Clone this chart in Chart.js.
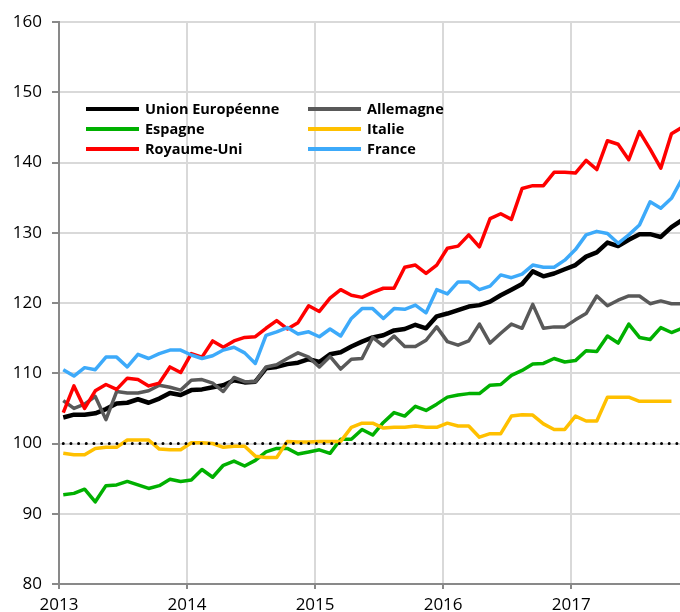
<!DOCTYPE html>
<html lang="fr">
<head>
<meta charset="UTF-8">
<title>Indices 2013-2017</title>
<script src="https://cdn.jsdelivr.net/npm/chart.js"></script>
<style>
  html, body { margin: 0; padding: 0; background: #fff; }
  #wrap { width: 680px; height: 612px; }
</style>
</head>
<body>
<div id="wrap"><canvas id="chart" width="680" height="612"></canvas></div>
<script>
// monthly values, Jan 2013 -> Nov 2017
const years = ['2013', '2014', '2015', '2016', '2017'];
const baseValue = 100;

const unionEuropeenne = [
  103.7, 104.1, 104.1, 104.3, 104.9, 105.7, 105.8, 106.3, 105.8, 106.4, 107.2, 106.9,
  107.6, 107.7, 108.0, 108.3, 109.0, 108.7, 108.8, 110.7, 110.9, 111.3, 111.5, 112.0,
  111.6, 112.7, 113.0, 113.8, 114.5, 115.1, 115.4, 116.1, 116.3, 116.9, 116.4, 118.1,
  118.5, 119.0, 119.5, 119.7, 120.2, 121.1, 121.9, 122.7, 124.5, 123.8, 124.2, 124.8,
  125.4, 126.6, 127.2, 128.6, 128.1, 129.0, 129.8, 129.8, 129.4, 130.8, 131.8
];
const allemagne = [
  106.1, 105.0, 105.6, 106.7, 103.4, 107.4, 107.2, 107.2, 107.5, 108.3, 108.0, 107.6,
  109.0, 109.1, 108.6, 107.4, 109.4, 108.8, 108.8, 110.9, 111.2, 112.1, 112.9, 112.3,
  110.9, 112.4, 110.6, 112.0, 112.1, 115.1, 113.9, 115.3, 113.8, 113.8, 114.7, 116.6,
  114.5, 114.0, 114.6, 117.0, 114.3, 115.7, 117.0, 116.4, 119.8, 116.4, 116.6, 116.6,
  117.6, 118.5, 121.0, 119.6, 120.4, 121.0, 121.0, 119.9, 120.3, 119.9, 119.9
];
const espagne = [
  92.7, 92.9, 93.5, 91.7, 94.0, 94.1, 94.6, 94.1, 93.6, 94.0, 94.9, 94.6,
  94.8, 96.3, 95.2, 96.9, 97.5, 96.8, 97.6, 98.8, 99.3, 99.3, 98.5, 98.8,
  99.1, 98.6, 100.6, 100.6, 102.0, 101.2, 103.0, 104.4, 103.9, 105.3, 104.7, 105.6,
  106.6, 106.9, 107.1, 107.1, 108.3, 108.4, 109.7, 110.4, 111.3, 111.4, 112.1, 111.6,
  111.8, 113.2, 113.1, 115.3, 114.3, 117.0, 115.1, 114.8, 116.5, 115.8, 116.4
];
const italie = [
  98.6, 98.4, 98.4, 99.3, 99.45, 99.45, 100.5, 100.5, 100.5, 99.2, 99.1, 99.1,
  100.1, 100.1, 100.0, 99.45, 99.6, 99.6, 98.2, 98.0, 98.0, 100.3, 100.2, 100.2,
  100.3, 100.3, 100.3, 102.3, 102.9, 102.9, 102.2, 102.3, 102.3, 102.5, 102.3, 102.3,
  102.9, 102.5, 102.5, 100.9, 101.4, 101.4, 103.9, 104.1, 104.05, 102.8, 102.0, 102.0,
  103.9, 103.2, 103.2, 106.6, 106.6, 106.6, 106.0, 106.0, 106.0, 106.0
];
const royaumeUni = [
  104.4, 108.2, 105.0, 107.5, 108.4, 107.7, 109.3, 109.1, 108.2, 108.6, 110.9, 110.1,
  112.8, 112.3, 114.6, 113.7, 114.6, 115.1, 115.2, 116.4, 117.5, 116.3, 117.2, 119.6,
  118.8, 120.7, 121.9, 121.1, 120.8, 121.5, 122.1, 122.1, 125.1, 125.4, 124.2, 125.4,
  127.8, 128.1, 129.7, 128.0, 132.0, 132.7, 131.9, 136.3, 136.7, 136.7, 138.6, 138.6,
  138.5, 140.3, 139.0, 143.1, 142.6, 140.4, 144.4, 141.9, 139.2, 144.1, 145.0
];
const france = [
  110.5, 109.6, 110.8, 110.5, 112.3, 112.3, 110.9, 112.7, 112.1, 112.8, 113.3, 113.3,
  112.6, 112.1, 112.5, 113.3, 113.7, 112.9, 111.4, 115.4, 115.9, 116.5, 115.6, 115.9,
  115.2, 116.3, 115.3, 117.8, 119.2, 119.2, 117.8, 119.2, 119.1, 119.7, 118.6, 121.9,
  121.3, 123.0, 123.0, 121.9, 122.4, 124.0, 123.6, 124.1, 125.4, 125.1, 125.1, 126.1,
  127.6, 129.7, 130.2, 129.9, 128.5, 129.7, 131.1, 134.4, 133.5, 134.9, 137.7
];

const series = [
  { label: 'Union Européenne', values: unionEuropeenne, color: '#000000', width: 4.5 },
  { label: 'Allemagne', values: allemagne, color: '#595959', width: 3.5 },
  { label: 'Espagne', values: espagne, color: '#00b000', width: 3.5 },
  { label: 'Italie', values: italie, color: '#ffc000', width: 3.5 },
  { label: 'Royaume-Uni', values: royaumeUni, color: '#ff0000', width: 3.5 },
  { label: 'France', values: france, color: '#3daafa', width: 3.5 }
];

const FONT = '"Open Sans", "Noto Sans", sans-serif';
const toPoints = arr => arr.map((v, i) => ({ x: i, y: v }));
const lastIndex = Math.max(...series.map(s => s.values.length)) - 1;

const datasets = series.map((s, k) => ({
  label: s.label,
  data: toPoints(s.values),
  borderColor: s.color,
  backgroundColor: s.color,
  borderWidth: s.width,
  borderJoinStyle: 'round',
  pointRadius: 0,
  tension: 0,
  fill: false,
  order: series.length - k
}));

// dotted base-100 reference
datasets.push({
  label: 'base',
  data: [{ x: 0, y: baseValue }, { x: lastIndex, y: baseValue }],
  borderColor: '#000000',
  borderWidth: 3,
  borderDash: [0, 7.67],
  borderCapStyle: 'round',
  pointRadius: 0,
  fill: false,
  order: 0
});

// two-column legend inside the plot
const gridLegend = {
  id: 'gridLegend',
  afterDraw(chart) {
    const ctx = chart.ctx;
    ctx.save();
    ctx.font = 'bold 14.5px ' + FONT;
    ctx.textBaseline = 'middle';
    ctx.textAlign = 'left';
    series.forEach((s, k) => {
      const x0 = (k % 2) ? 308 : 86;
      const y = 109 + Math.floor(k / 2) * 20;
      ctx.strokeStyle = s.color;
      ctx.lineWidth = 4;
      ctx.beginPath();
      ctx.moveTo(x0, y);
      ctx.lineTo(x0 + 53, y);
      ctx.stroke();
      ctx.fillStyle = '#000';
      ctx.fillText(s.label, x0 + 59, y + 1);
    });
    ctx.restore();
  }
};

new Chart(document.getElementById('chart'), {
  type: 'line',
  data: { datasets },
  plugins: [gridLegend],
  options: {
    responsive: false,
    devicePixelRatio: 1,
    animation: false,
    layout: { padding: { top: 22, right: 0, bottom: 0, left: 0 } },
    plugins: { legend: { display: false }, tooltip: { enabled: false } },
    scales: {
      x: {
        type: 'linear',
        min: -0.4,
        max: 57.8,
        afterBuildTicks: sc => { sc.ticks = years.map((y, k) => ({ value: k * 12 - 0.4 })); },
        afterFit: sc => { sc.height = 28; },
        ticks: {
          autoSkip: false,
          maxRotation: 0,
          padding: 6,
          color: '#000',
          font: { family: FONT, size: 17 },
          callback: (v, idx) => years[idx]
        },
        grid: { color: '#d9d9d9', lineWidth: 2, tickLength: 5, tickColor: '#898989', tickWidth: 2 },
        border: { color: '#898989', width: 2 }
      },
      y: {
        min: 80,
        max: 160,
        afterFit: sc => { sc.width = 59; },
        ticks: {
          stepSize: 10,
          padding: 10,
          color: '#000',
          font: { family: FONT, size: 17 }
        },
        grid: { color: '#d9d9d9', lineWidth: 2, tickLength: 7, tickColor: '#898989', tickWidth: 2 },
        border: { color: '#898989', width: 2 }
      }
    }
  }
});
</script>
</body>
</html>
